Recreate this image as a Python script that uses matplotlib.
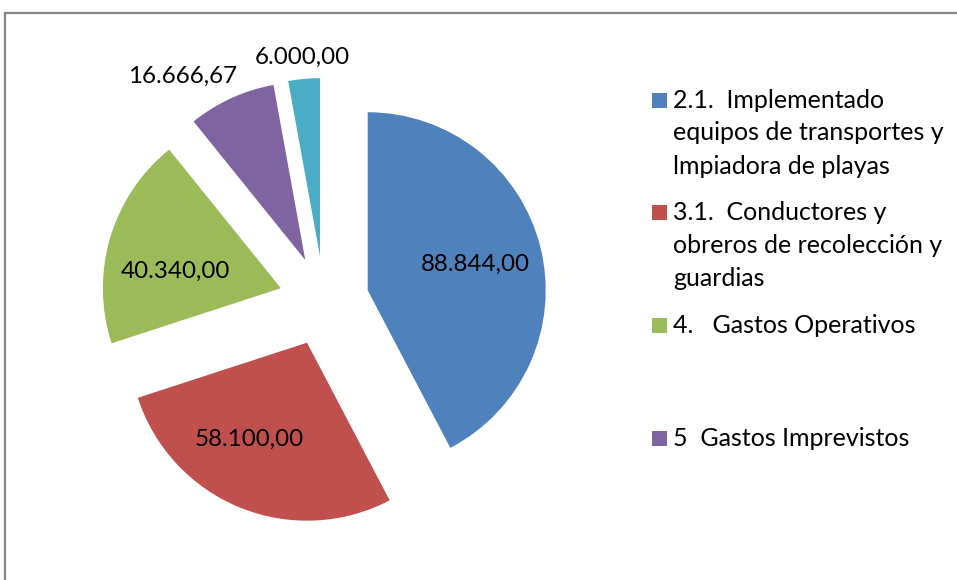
import numpy as np
import matplotlib
matplotlib.use("Agg")
import matplotlib.pyplot as plt
from matplotlib.patches import Rectangle

plt.rcParams['font.family'] = ['Lato', 'DejaVu Sans']

#____________________________ DATA ____________________________#
values = [88844.00, 58100.00, 40340.00, 16666.67, 6000.00]
value_labels = ['88.844,00', '58.100,00', '40.340,00', '16.666,67', '6.000,00']
legend_labels = ['2.1.  Implementado\nequipos de transportes y\nlmpiadora de playas',
                 '3.1.  Conductores y\nobreros de recolección y\nguardias',
                 '4.   Gastos Operativos',
                 '5  Gastos Imprevistos']
colours = ['#4F81BD', '#C0504D', '#9BBB59', '#8064A2', '#4BACC6']

#____________________________ LAYOUT ___________________________#
W, H = 957, 580
R = 178.0           # pie radius in px
centre = (324, H - 301)
explode = [45] * 5  # px
# label placement: distance (fraction of R) and angle, from the exploded wedge apex
lab_dist = [0.62, 0.635, 0.60, 1.24, 1.12]
lab_ang = [13.5, -121.0, 171.0, 123.8, 95.2]

fig = plt.figure(figsize=(W / 100, H / 100), dpi=100)
ax = fig.add_axes([0, 0, 1, 1])

wedges, _ = ax.pie(values, colors=colours, startangle=90, counterclock=False,
                   radius=R, center=centre, explode=explode,
                   wedgeprops=dict(linewidth=0))
ax.set_xlim(0, W)
ax.set_ylim(0, H)
ax.set_aspect('auto')
ax.axis('off')

for w, txt, d, a in zip(wedges, value_labels, lab_dist, lab_ang):
    cx, cy = w.center
    ax.text(cx + d * R * np.cos(np.radians(a)), cy + d * R * np.sin(np.radians(a)),
            txt, ha='center', va='center', fontsize=17.4, color='black')

# chart frame (cut at right and bottom)
ax.plot([5, 5, W + 10], [-10, H - 12.5, H - 12.5], color='#878787', lw=1.6,
        solid_joinstyle='miter', clip_on=False)

# legend, evenly spaced slots like excel
slot = 112.7
y0 = H - 100
for i, lab in enumerate(legend_labels):
    y = y0 - i * slot
    ax.add_patch(Rectangle((652, y - 7.5), 15, 15, color=colours[i], lw=0))
    for k, line in enumerate(lab.split('\n')):
        ax.text(673, y - k * 33, line, ha='left', va='center', fontsize=18,
                color='black')

fig.savefig('out.png', dpi=100)
